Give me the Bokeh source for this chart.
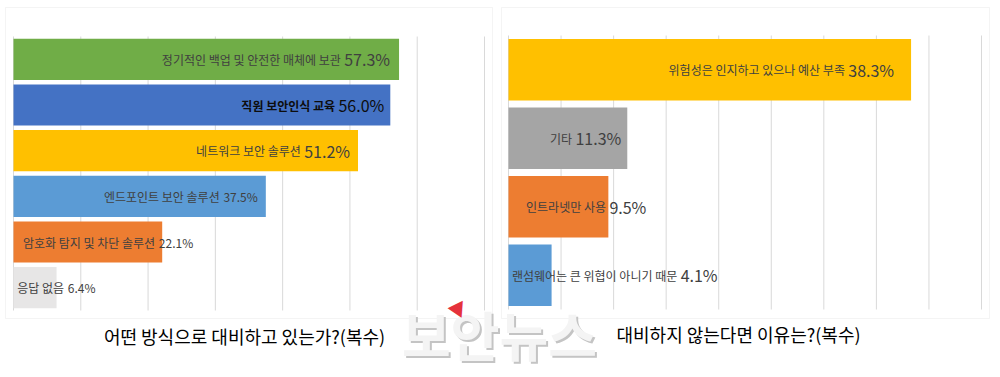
from bokeh.plotting import figure
from bokeh.models import Range1d, Label, ColumnDataSource, BoxAnnotation
from bokeh.core.properties import value
from bokeh.embed import file_html
from bokeh.resources import INLINE

FONT = "Noto Sans CJK KR"

# ---------------- data ----------------
LEFT_TITLE = "어떤 방식으로 대비하고 있는가?(복수)"
LEFT_CATS = ["정기적인 백업 및 안전한 매체에 보관", "직원 보안인식 교육", "네트워크 보안 솔루션",
             "엔드포인트 보안 솔루션", "암호화 탐지 및 차단 솔루션", "응답 없음"]
LEFT_VALS = [57.3, 56.0, 51.2, 37.5, 22.1, 6.4]
LEFT_COLORS = ["#70AD47", "#4472C4", "#FFC000", "#5B9BD5", "#ED7D31", "#E7E6E6"]
LEFT_TICKS = [0, 10, 20, 30, 40, 50, 60, 70]

RIGHT_TITLE = "대비하지 않는다면 이유는?(복수)"
RIGHT_CATS = ["위험성은 인지하고 있으나 예산 부족", "기타", "인트라넷만 사용", "랜섬웨어는 큰 위협이 아니기 때문"]
RIGHT_VALS = [38.3, 11.3, 9.5, 4.1]
RIGHT_COLORS = ["#FFC000", "#A5A5A5", "#ED7D31", "#5B9BD5"]
RIGHT_TICKS = [0, 5, 10, 15, 20, 25, 30, 35, 40, 45]

WATERMARK = "보안뉴스"

# ---------------- label styles (px) ----------------
LEFT_LABEL_STYLE = dict(
    offsets=[-9, -6, -8, -8, 31, 39],
    pct_sizes=[16, 16, 16, 12, 12, 12],
    colors=["#404040", "#0d0d0d", "#404040", "#404040", "#404040", "#404040"],
    weights=["normal", "bold", "normal", "normal", "normal", "normal"],
)
RIGHT_LABEL_STYLE = dict(
    offsets=[-17, -6, 38, 166],
    pct_sizes=[16, 16, 16, 16],
    colors=["#404040", "#404040", "#404040", "#404040"],
    weights=["normal", "normal", "normal", "normal"],
)
LABEL_SIZE = 12
GAP = 5

W, H = 1000, 377
# pixel layout of each panel: plotting area and light frame box (left, right, top, bottom)
LEFT_AREA, LEFT_BOX = (13, 484, 36, 310), (5, 492, 7, 318)
RIGHT_AREA, RIGHT_BOX = (508, 981, 35, 309), (501, 989, 7, 318)


def pct_width(s, size):
    w = 0.0
    for ch in s:
        if ch.isdigit():
            w += 0.55
        elif ch == "%":
            w += 0.84
        elif ch == ".":
            w += 0.27
        else:
            w += 0.5
    return w * size


def panel_ranges(n, xmax, area):
    a_l, a_r, a_t, a_b = area
    sx = (a_r - a_l) / xmax
    sy = (a_b - a_t) / n
    return (Range1d(-a_l / sx, xmax + (W - a_r) / sx),
            Range1d(-0.5 - (H - a_b) / sy, n - 0.5 + a_t / sy))


lx, ly = panel_ranges(len(LEFT_CATS), LEFT_TICKS[-1], LEFT_AREA)
rx, ry = panel_ranges(len(RIGHT_CATS), RIGHT_TICKS[-1], RIGHT_AREA)

p = figure(width=W, height=H, output_backend="svg", toolbar_location=None,
           x_axis_location=None, y_axis_location=None,
           x_range=lx, y_range=ly, min_border=0)
p.extra_x_ranges = {"r": rx}
p.extra_y_ranges = {"r": ry}
p.background_fill_color = "white"
p.border_fill_color = "white"
p.outline_line_color = None
p.grid.visible = False


def draw_panel(cats, vals, colors, ticks, style, box, rname):
    n = len(cats)
    kw = dict(x_range_name=rname, y_range_name=rname)
    b_l, b_r, b_t, b_b = box
    p.add_layout(BoxAnnotation(left=b_l, right=b_r, top=b_t, bottom=b_b,
                               left_units="canvas", right_units="canvas",
                               top_units="canvas", bottom_units="canvas",
                               fill_color=None, line_color="#d9d9d9", line_width=1,
                               level="underlay"))
    # vertical grid lines at tick values, spanning the category band
    p.segment(x0=ticks, x1=ticks, y0=[-0.5] * len(ticks), y1=[n - 0.5] * len(ticks),
              line_color="#d9d9d9", line_width=1, **kw)

    ys = [n - 1 - i for i in range(n)]
    pcts = [f"{v:.1f}%" for v in vals]
    pct_offs = style["offsets"]
    lab_offs = [o - pct_width(t, s) - GAP for o, t, s in zip(pct_offs, pcts, style["pct_sizes"])]
    src = ColumnDataSource(dict(
        y=ys, v=vals, color=colors, cat=cats, pct=pcts,
        pct_off=pct_offs, lab_off=lab_offs,
        pct_size=[f"{s}px" for s in style["pct_sizes"]],
        tc=style["colors"], fw=style["weights"],
    ))
    p.hbar(y="y", left=0, right="v", height=0.9, fill_color="color", line_color=None,
           source=src, **kw)
    p.text(x="v", y="y", text="pct", x_offset="pct_off", text_align="right",
           text_baseline="middle", text_font_size="pct_size", text_color="tc",
           text_font=value(FONT), source=src, **kw)
    p.text(x="v", y="y", text="cat", x_offset="lab_off", text_align="right",
           text_baseline="middle", text_font_size=f"{LABEL_SIZE}px", text_color="tc",
           text_font_style="fw", text_font=value(FONT), source=src, **kw)


draw_panel(LEFT_CATS, LEFT_VALS, LEFT_COLORS, LEFT_TICKS, LEFT_LABEL_STYLE, LEFT_BOX, "default")
draw_panel(RIGHT_CATS, RIGHT_VALS, RIGHT_COLORS, RIGHT_TICKS, RIGHT_LABEL_STYLE, RIGHT_BOX, "r")

# titles below each box
p.add_layout(Label(x=244, y=335, x_units="canvas", y_units="canvas", text=LEFT_TITLE,
                   text_align="center", text_baseline="middle", text_font_size="18px",
                   text_color="#000000", text_font=FONT))
p.add_layout(Label(x=738, y=333, x_units="canvas", y_units="canvas", text=RIGHT_TITLE,
                   text_align="center", text_baseline="middle", text_font_size="18px",
                   text_color="#000000", text_font=FONT))

# watermark
p.add_layout(Label(x=501, y=335, x_units="canvas", y_units="canvas", text=WATERMARK,
                   text_align="center", text_baseline="middle", text_font_size="53px",
                   text_font_style="bold", text_color="#c4c4c4", text_font=FONT))
p.add_layout(Label(x=499, y=333, x_units="canvas", y_units="canvas", text=WATERMARK,
                   text_align="center", text_baseline="middle", text_font_size="53px",
                   text_font_style="bold", text_color="#f4f4f4", text_font=FONT))
p.add_layout(Label(x=457, y=309, x_units="canvas", y_units="canvas", text="▼", angle=0.45,
                   text_align="center", text_baseline="middle", text_font_size="18px",
                   text_color="#e5323c", text_font=FONT))

open("out.html", "w").write(file_html(p, INLINE))
